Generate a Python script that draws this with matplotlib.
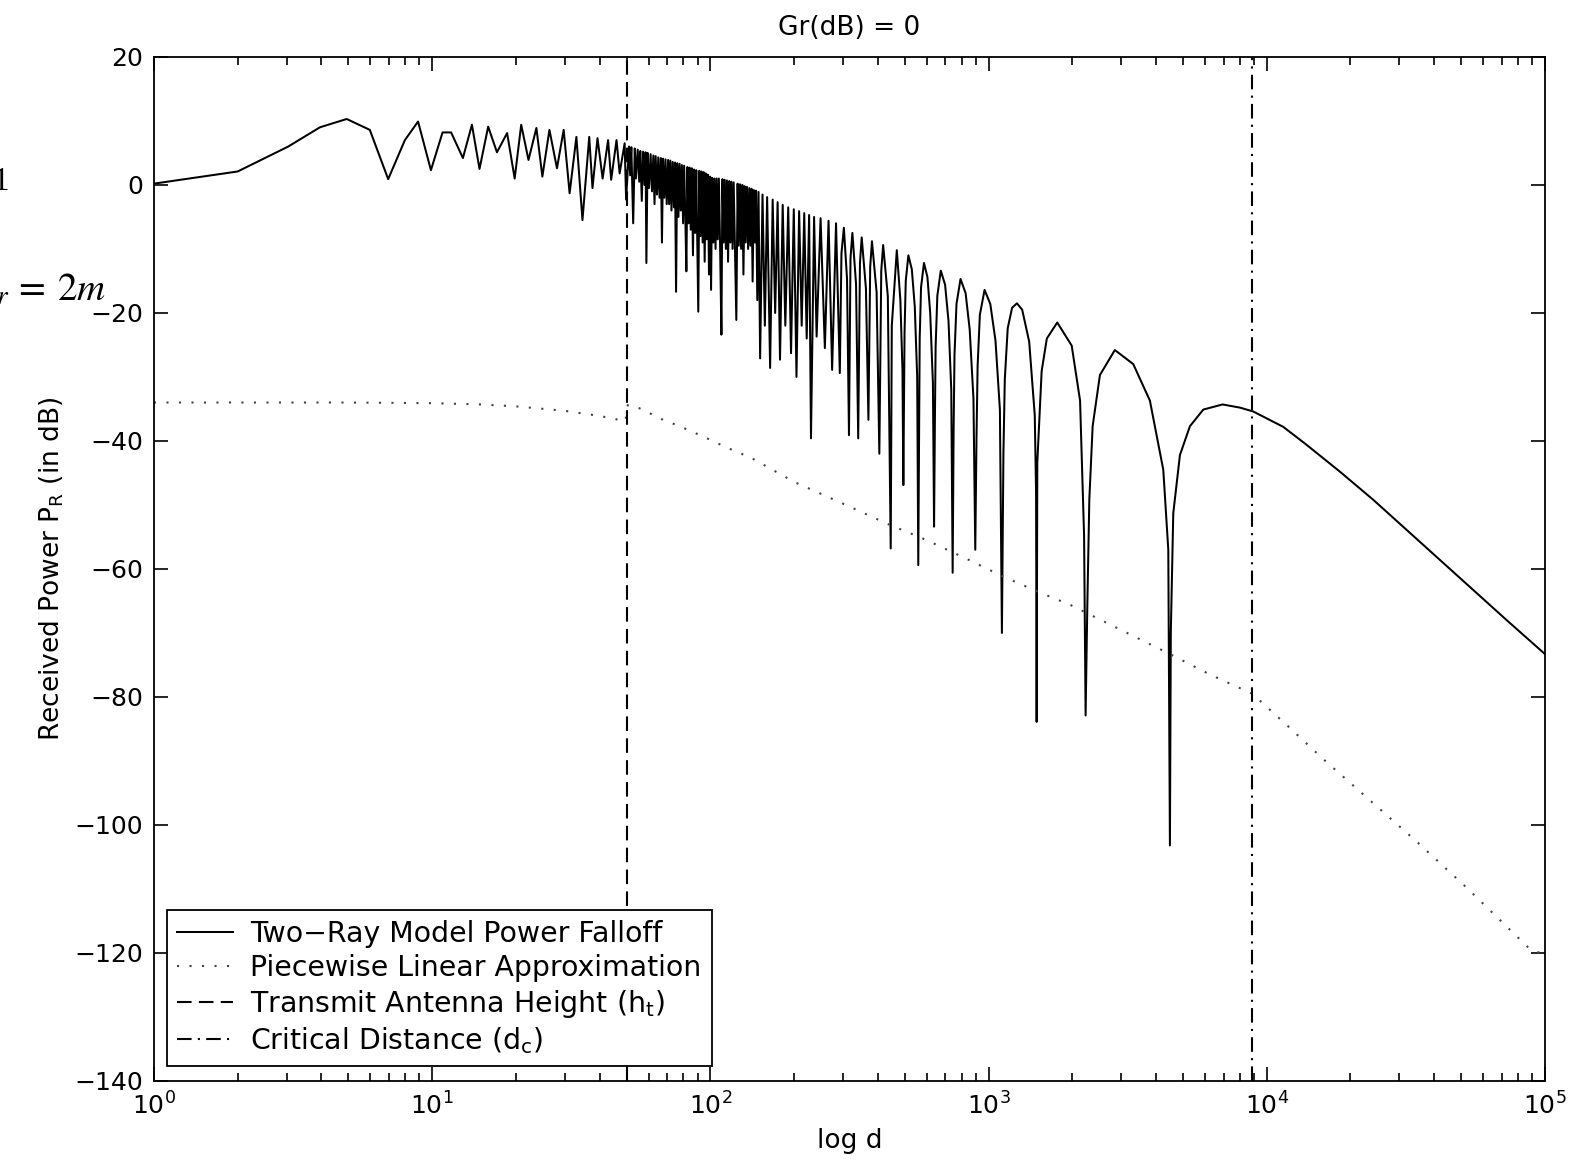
import matplotlib
matplotlib.use("Agg")
import numpy as np
import matplotlib.pyplot as plt

# two-ray received power (d in m, value in dB)
near_d = [1, 2, 3.04, 3.95, 4.93, 5.97, 6.95, 7.98, 8.9, 9.9, 10.9, 11.7, 12.9, 13.9,
          14.8, 15.9, 17.1, 18.6, 19.8, 20.9, 22.2, 23.7, 24.9, 26.4, 28.1, 29.7, 31.2,
          33.0, 34.7, 36.7, 37.7, 39.3, 41.0, 42.9, 44.0, 46.0, 47.2, 49.2, 49.8]
near_db = [0.2, 2.1, 6.0, 9.0, 10.3, 8.6, 0.9, 7.0, 9.9, 2.3, 8.2, 8.2, 4.2, 9.4,
           2.5, 9.1, 5.1, 8.1, 1.0, 9.4, 3.9, 8.9, 1.3, 8.6, 2.6, 8.6, -1.3,
           7.5, -5.5, 7.5, -0.5, 7.3, 1.0, 7.0, 0.8, 7.0, 1.8, 6.5, -2.3]

# dense (aliased) band between h_t and ~150 m
band_d = [51, 51.5, 52, 52.8, 53.5, 54, 54.8, 55.5, 56, 56.7, 57.3, 58, 58.5, 58.9,
          59.5, 60.2, 61, 61.7, 62.4, 63, 63.6, 64.3, 65, 65.7, 66.4, 67, 67.6, 68.3,
          69, 69.7, 70.5, 71.1, 71.8, 72.5, 73.2, 74, 74.6, 75.3, 76, 76.8, 77.5, 78.3,
          79, 79.8, 80.5, 81.3, 82, 82.7, 83.5, 84.3, 85, 85.8, 86.6, 87.4, 88.2, 89,
          90.5, 91.3, 92.1, 93, 93.8, 94.6, 95.4, 96.3, 97.1, 98, 98.9, 99.8, 100.6,
          101.5, 102.5, 103.4, 104.4, 105.3, 106.3, 107.3, 108.4, 109.6, 110.5, 111.6,
          112.6, 113.7, 114.7, 115.8, 116.9, 118, 119.1, 120.2, 121.3, 124, 125.3,
          126.5, 127.8, 129, 130.3, 131.5, 132.8, 134, 135.4, 136.7, 138, 139.3, 140.6,
          141.9, 143.3, 144.7, 146, 147.5, 149, 151]
band_db = [6.0, 1.5, 5.9, -6.0, 5.7, 1.0, 5.5, 0.5, 5.3, -2.5, 5.2, 0.0, 5.1, -12.2,
           5.0, -0.5, 4.8, -1.0, 4.6, -3.0, 4.5, -1.5, 4.3, -2.0, 4.2, -9.0, 4.1, -2.0,
           4.0, -3.0, 3.9, -3.0, 3.8, -4.0, 3.6, -3.5, 3.5, -16.7, 3.4, -5.0, 3.3, -4.0,
           3.1, -6.0, 3.0, -5.0, -13.5, 2.8, -6.0, 2.7, -7.0, 2.6, -11.0, 2.4, -7.5, 2.3,
           -19.8, 2.2, -8.0, 2.1, -9.0, 2.0, -12.0, 1.8, -8.5, 1.6, -14.0, 1.3, -16.4,
           1.1, -9.0, 1.0, -10.0, 1.0, -8.5, 1.0, -9.5, -23.4, 0.9, -9.0,
           0.8, -10.0, 0.7, -12.0, 0.6, -9.0, 0.5, -10.0, 0.4, -21.1, 0.2,
           -9.5, 0.1, -10.0, 0.0, -14.0, -0.2, -9.0, -0.3, -10.0, -0.5, -9.5, -0.6,
           -15.1, -0.8, -9.0, -0.9, -18.0, -1.1, -27.1]

lobe_d = [154, 157, 160, 164, 167.5, 171, 174.5, 178, 182, 186, 190.5, 195, 199.5, 204,
          208.5, 213, 217.5, 222, 226.5, 230, 236, 241, 249, 258, 266, 274, 283, 292,
          296, 302, 310, 315, 319, 324, 334, 340, 345, 350, 362.5, 370, 375.5, 381, 396,
          405, 411.5, 418, 434.5, 445,
          449, 468, 482, 490.5, 494, 499, 504, 515, 530, 543, 554, 559,
          565.6, 572, 586, 603, 617, 631, 637, 641.5, 645.3, 654.6, 673.5, 698, 718, 734.5,
          743, 749, 754.4, 767, 793, 827, 855.6, 882.6, 896, 905, 913.5, 930.6, 967.6,
          1014.6, 1059, 1098.5, 1117, 1131, 1144, 1172, 1215, 1265, 1321, 1400, 1466, 1482,
          1489, 1497, 1552, 1620, 1766, 1990, 2133, 2205, 2233, 2264, 2303, 2367, 2514,
          2845, 3313, 3802, 4247, 4427, 4487]
lobe_db = [-1.5, -22, -1.9, -28.6, -2.3, -20, -2.7, -27.3, -3.1, -22, -3.5, -26.3, -3.8, -30,
           -4.1, -22, -4.4, -24, -4.7, -39.6, -5.0, -23.7, -5.2, -25.5, -5.6, -28.9, -6.0, -29.4,
           -10.7, -6.7, -14.7, -39.1, -11.5, -7.5, -15.5, -39.6, -12.2, -8.2, -16.2, -36.7, -12.8, -8.8, -16.8,
           -42.0, -13.4, -9.4, -17.4, -56.8,
           -22, -10.2, -18, -29, -46.9, -23, -15, -11.0, -13.2, -19, -30, -59.4,
           -24, -16, -12.2, -14.4, -20, -31, -53.4, -36.7, -25.3, -17.3, -13.4, -15.6, -21.3, -32,
           -60.6, -38, -26.6, -18.6, -14.7, -16.9, -22.6, -33.4, -57.0, -39.7, -28.3, -20.3, -16.4,
           -18.6, -24.3, -35.1, -70.0, -42, -30.4, -22.4, -19.2, -18.5, -19.5, -24.5, -36, -48,
           -83.9, -43.4, -29.1, -24, -21.5, -25.1, -33.7, -54.8, -82.9, -66.2, -49.1, -37.7, -29.7,
           -25.8, -28.0, -33.7, -44.5, -57.0, -103.2]

far_d = [4520, 4613, 4875, 5295, 5915, 6937, 8017, 8940, 11460, 13900, 18320, 24150,
         31820, 41960, 55260, 72850, 100000]
far_db = [-70, -51.3, -42.2, -37.7, -35.1, -34.3, -34.8, -35.4, -37.8, -40.6, -44.8, -49.2,
          -53.9, -58.6, -63.3, -68.0, -73.3]

# piecewise linear approximation (dotted)
approx_d = [1, 5, 10, 15, 20, 30, 40, 49.5, 50.5, 55, 60.7, 67.6, 75.5, 83.4, 91.8, 102,
            114, 141, 200, 318, 430, 599, 823, 1130, 1552, 1963, 4487, 6250, 8870, 11940,
            15950, 22860, 34580, 52290, 88300, 100000]
approx_db = [-34.0, -34.0, -34.1, -34.3, -34.6, -35.3, -36.1, -36.9, -34.4, -34.8, -35.7,
             -36.7, -37.5, -38.3, -39.1, -40.0, -41.0, -42.7, -46.4, -50.3, -52.9, -55.5,
             -58.3, -61.2, -63.8, -65.6, -73.3, -76.5, -79.5, -84.6, -89.7, -95.7, -102.6,
             -109.8, -119.4, -120.3]

ht = 50       # transmit antenna height marker
dc = 8870     # critical distance marker

labels = ["Two\u2212Ray Model Power Falloff", "Piecewise Linear Approximation",
          "Transmit Antenna Height (h$_\\mathrm{t}$)", "Critical Distance (d$_\\mathrm{c}$)"]

plt.rcParams['font.family'] = ['DejaVu Sans']

fig = plt.figure(figsize=(15.87, 11.71), dpi=100)
ax = fig.add_axes([0.0970, 0.0769, 0.8765, 0.8745])

d_all = near_d + band_d + lobe_d + far_d
db_all = near_db + band_db + lobe_db + far_db

l1, = ax.plot(d_all, db_all, color='black', lw=1.45)
l2, = ax.plot(approx_d, approx_db, color='#444444', lw=1.5, linestyle=(0, (1, 5)))
l3 = ax.axvline(ht, color='black', lw=1.5, linestyle=(0, (7, 3.5)))
l4 = ax.axvline(dc, color='black', lw=1.5, linestyle=(0, (7, 3, 1, 3)))

ax.set_xscale('log')
ax.set_xlim(1, 1e5)
ax.set_ylim(-140, 20)
ax.set_yticks(np.arange(-140, 21, 20))

ax.tick_params(which='both', direction='in', top=True, right=True, labelsize=18, width=1.2)
ax.tick_params(which='major', length=10, pad=8)
ax.tick_params(which='minor', length=6)
for s in ax.spines.values():
    s.set_linewidth(1.3)

ax.set_title("Gr(dB) = 0", fontsize=19, pad=16)
ax.set_xlabel("log d", fontsize=19, labelpad=6)
ax.set_ylabel("Received Power P$_\\mathrm{R}$ (in dB)", fontsize=19, labelpad=6)

leg = ax.legend([l1, l2, l3, l4], labels, loc='lower left', bbox_to_anchor=(0.0093, 0.0146),
                borderaxespad=0, fontsize=20.4, fancybox=False, framealpha=1,
                edgecolor='black', labelspacing=0.2, handlelength=2.0, handletextpad=0.6,
                borderpad=0.35)
leg.get_frame().set_linewidth(1.3)
leg.set_zorder(5)

# cropped slide text at the left edge
fig.text(9 / 1587, 1 - 190 / 1171, "1", ha='right', va='baseline',
         family='Liberation Serif', fontsize=24)
fig.text(10 / 1587, 1 - 300 / 1171, r"$h_r$", ha='right', va='baseline',
         fontsize=28, math_fontfamily='stix')
fig.text(13 / 1587, 1 - 300 / 1171, r"$=\:2m$", ha='left', va='baseline',
         fontsize=28, math_fontfamily='stix')

fig.savefig("out.png", dpi=100)
